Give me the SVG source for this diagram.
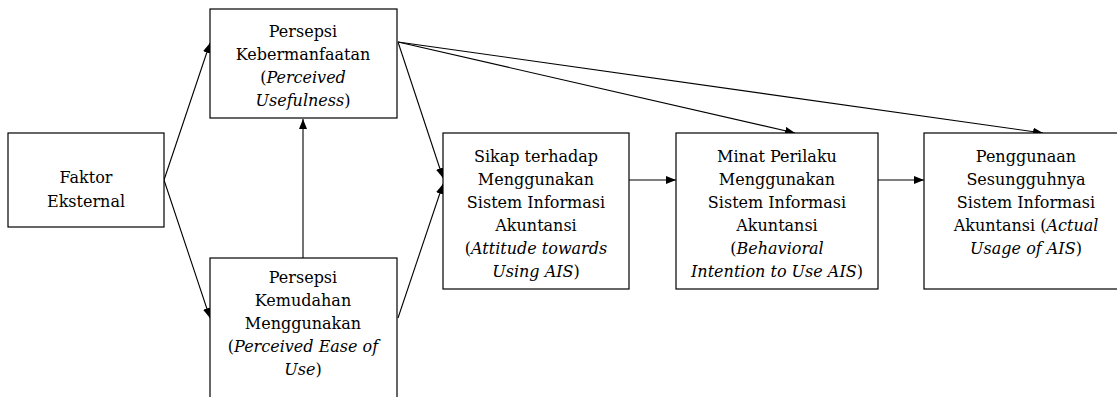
<svg xmlns="http://www.w3.org/2000/svg" width="1117" height="397" viewBox="0 0 1117 397">
<defs>
<marker id="ah" viewBox="0 0 10 8" refX="10" refY="4" markerWidth="10" markerHeight="8" markerUnits="userSpaceOnUse" orient="auto">
<path d="M0,0 L10,4 L0,8 Z" fill="#000"/>
</marker>
<style>
.box{fill:#fff;stroke:#000;stroke-width:1.2}
.t{font-family:"DejaVu Serif","Liberation Serif",serif;font-size:16px;fill:#000;text-anchor:middle}
.i{font-style:italic}
.c{fill:none;stroke:#000;stroke-width:1.1;marker-end:url(#ah)}
</style>
</defs>
<rect width="1117" height="397" fill="#fff"/>
<g id="connectors">
<line class="c" x1="164" y1="180" x2="210" y2="43"/>
<line class="c" x1="164" y1="180" x2="210" y2="318"/>
<line class="c" x1="303" y1="258" x2="303" y2="119"/>
<line class="c" x1="398" y1="42" x2="443" y2="178"/>
<line class="c" x1="398" y1="318" x2="443" y2="184"/>
<line class="c" x1="398" y1="42" x2="795" y2="133"/>
<line class="c" x1="398" y1="42" x2="1043" y2="133"/>
<line class="c" x1="629" y1="180" x2="676" y2="180"/>
<line class="c" x1="878" y1="180" x2="924" y2="180"/>
</g>
<g id="faktor">
<rect class="box" x="8" y="133" width="156" height="94"/>
<text class="t" x="86" y="183">Faktor</text>
<text class="t" x="86" y="207">Eksternal</text>
</g>
<g id="pu">
<rect class="box" x="210" y="9" width="187" height="109"/>
<text class="t" x="303" y="37">Persepsi</text>
<text class="t" x="303" y="60">Kebermanfaatan</text>
<text class="t" x="303" y="83">(<tspan class="i">Perceived</tspan></text>
<text class="t" x="303" y="106"><tspan class="i">Usefulness</tspan>)</text>
</g>
<g id="peou">
<rect class="box" x="210" y="258" width="187" height="150"/>
<text class="t" x="303" y="283">Persepsi</text>
<text class="t" x="303" y="306">Kemudahan</text>
<text class="t" x="303" y="329">Menggunakan</text>
<text class="t" x="303" y="352">(<tspan class="i">Perceived Ease of</tspan></text>
<text class="t" x="303" y="375"><tspan class="i">Use</tspan>)</text>
</g>
<g id="sikap">
<rect class="box" x="443" y="133" width="186" height="156"/>
<text class="t" x="536" y="162">Sikap terhadap</text>
<text class="t" x="536" y="185">Menggunakan</text>
<text class="t" x="536" y="208">Sistem Informasi</text>
<text class="t" x="536" y="231">Akuntansi</text>
<text class="t" x="536" y="254">(<tspan class="i">Attitude towards</tspan></text>
<text class="t" x="536" y="277"><tspan class="i">Using AIS</tspan>)</text>
</g>
<g id="minat">
<rect class="box" x="676" y="133" width="202" height="156"/>
<text class="t" x="777" y="162">Minat Perilaku</text>
<text class="t" x="777" y="185">Menggunakan</text>
<text class="t" x="777" y="208">Sistem Informasi</text>
<text class="t" x="777" y="231">Akuntansi</text>
<text class="t" x="777" y="254">(<tspan class="i">Behavioral</tspan></text>
<text class="t" x="777" y="277"><tspan class="i">Intention to Use AIS</tspan>)</text>
</g>
<g id="penggunaan">
<rect class="box" x="924" y="133" width="210" height="156"/>
<text class="t" x="1026" y="162">Penggunaan</text>
<text class="t" x="1026" y="185">Sesungguhnya</text>
<text class="t" x="1026" y="208">Sistem Informasi</text>
<text class="t" x="1026" y="231">Akuntansi (<tspan class="i">Actual</tspan></text>
<text class="t" x="1026" y="254"><tspan class="i">Usage of AIS</tspan>)</text>
</g>
</svg>
